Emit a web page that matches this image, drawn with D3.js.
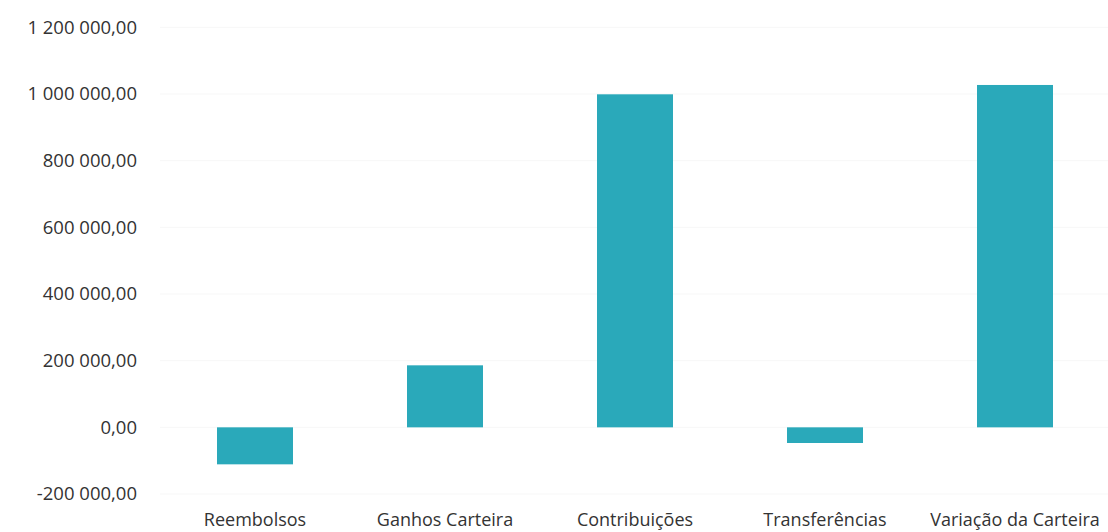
<!DOCTYPE html>
<html>
<head>
<meta charset="utf-8">
<script src="https://cdn.jsdelivr.net/npm/d3@7"></script>
<style>
  html, body { margin: 0; padding: 0; background: #fff; }
  svg text { font-family: "Open Sans", sans-serif; fill: #333; }
</style>
</head>
<body>
<svg id="chart" width="1108" height="532"></svg>
<script>
const categories = ["Reembolsos", "Ganhos Carteira", "Contribuições", "Transferências", "Variação da Carteira"];
const values = [-111000, 186000, 999000, -47000, 1027000];
const yTicks = [-200000, 0, 200000, 400000, 600000, 800000, 1000000, 1200000];

const svg = d3.select("#chart");

const x = d3.scaleBand().domain(categories).range([160, 1110]).paddingInner(0.6).paddingOuter(0.3);
const y = d3.scaleLinear().domain([-200000, 1200000]).range([494, 27.3]);

const locale = d3.formatLocale({decimal: ",", thousands: " ", grouping: [3], currency: ["", ""], minus: "-"});
const fmt = locale.format(",.2f");

// faint gridlines
svg.append("g").selectAll("line").data(yTicks).join("line")
  .attr("x1", 160).attr("x2", 1108)
  .attr("y1", d => y(d)).attr("y2", d => y(d))
  .attr("stroke", "#f7f7f7").attr("stroke-width", 1);

// y axis labels
const yAxis = d3.axisLeft(y).tickValues(yTicks).tickFormat(fmt).tickSize(0).tickPadding(0);
const gy = svg.append("g").attr("transform", "translate(137,0)").call(yAxis);
gy.select(".domain").remove();
gy.selectAll("text").style("font-size", "18.5px").style("font-family", "'Open Sans', sans-serif").attr("fill", "#333");

// bars
svg.append("g").selectAll("rect").data(categories).join("rect")
  .attr("x", d => x(d))
  .attr("width", x.bandwidth())
  .attr("y", (d, i) => y(Math.max(0, values[i])))
  .attr("height", (d, i) => Math.abs(y(values[i]) - y(0)))
  .attr("fill", "#2aa9ba");

// x axis labels
const xAxis = d3.axisBottom(x).tickSize(0).tickPadding(0);
const gx = svg.append("g").attr("transform", "translate(0,513)").call(xAxis);
gx.select(".domain").remove();
gx.selectAll("text").style("font-size", "18px").style("font-family", "'Open Sans', sans-serif").attr("fill", "#333");
</script>
</body>
</html>
